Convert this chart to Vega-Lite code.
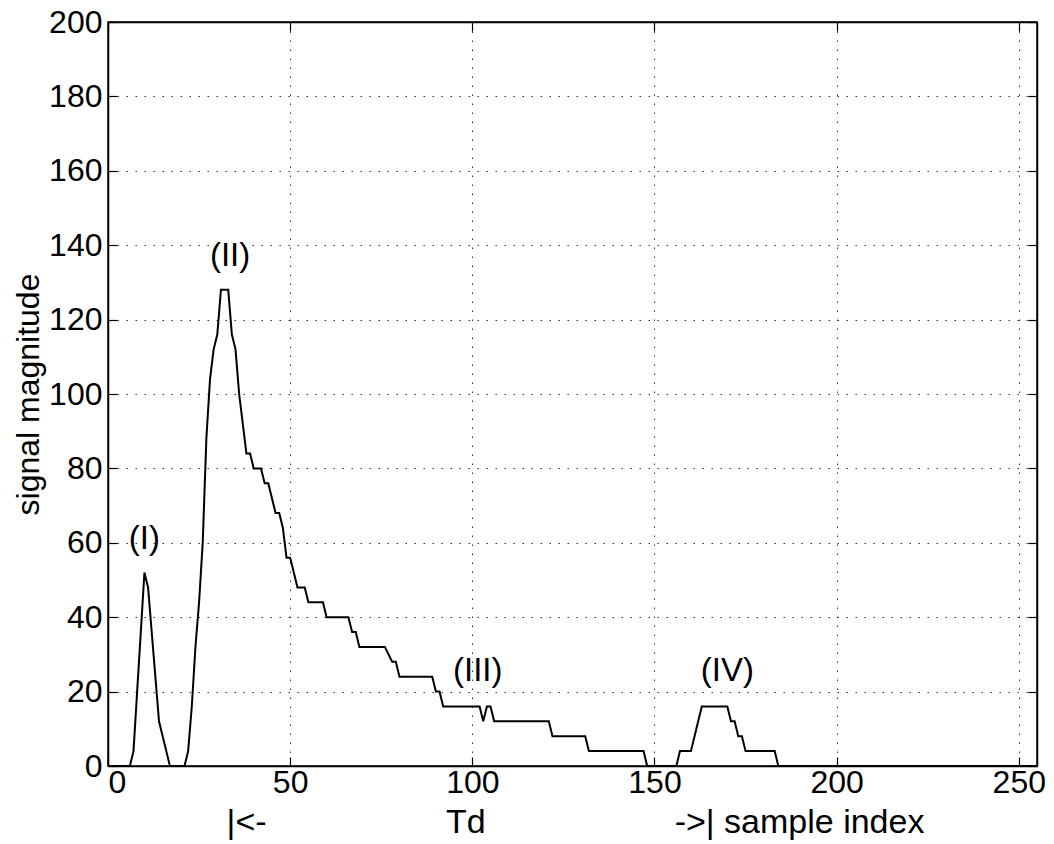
{
  "$schema": "https://vega.github.io/schema/vega-lite/v6.json",
  "width": 929,
  "height": 744,
  "autosize": "none",
  "padding": {"left": 108, "top": 22, "right": 17, "bottom": 78},
  "background": "white",
  "config": {
    "font": "Liberation Sans",
    "view": {"stroke": "black", "strokeWidth": 1.5},
    "axis": {
      "domainColor": "black",
      "domainWidth": 1.5,
      "tickColor": "black",
      "tickWidth": 1.2,
      "labelColor": "black",
      "labelFont": "Liberation Sans",
      "labelFontSize": 32,
      "titleFont": "Liberation Sans",
      "titleFontSize": 33,
      "titleFontWeight": "normal",
      "titleColor": "black",
      "gridColor": "#333333",
      "gridDash": [1.5, 7.5],
      "gridWidth": 1,
      "gridOpacity": 1
    }
  },
  "datasets": {
    "curve": [
      {"x": 0, "y": 0}, {"x": 1, "y": 0}, {"x": 2, "y": 0}, {"x": 3, "y": 0}, {"x": 4, "y": 0}, {"x": 5, "y": 0}, {"x": 6, "y": 0},
      {"x": 7, "y": 4}, {"x": 8, "y": 20}, {"x": 9, "y": 36}, {"x": 10, "y": 52}, {"x": 11, "y": 48}, {"x": 12, "y": 36},
      {"x": 13, "y": 24}, {"x": 14, "y": 12}, {"x": 15, "y": 8}, {"x": 16, "y": 4},
      {"x": 17, "y": 0}, {"x": 18, "y": 0}, {"x": 19, "y": 0}, {"x": 20, "y": 0}, {"x": 21, "y": 0},
      {"x": 22, "y": 4}, {"x": 23, "y": 16}, {"x": 24, "y": 32}, {"x": 25, "y": 44}, {"x": 26, "y": 60}, {"x": 27, "y": 88},
      {"x": 28, "y": 104}, {"x": 29, "y": 112}, {"x": 30, "y": 116}, {"x": 31, "y": 128}, {"x": 32, "y": 128}, {"x": 33, "y": 128},
      {"x": 34, "y": 116}, {"x": 35, "y": 112}, {"x": 36, "y": 100}, {"x": 37, "y": 92}, {"x": 38, "y": 84}, {"x": 39, "y": 84},
      {"x": 40, "y": 80}, {"x": 41, "y": 80}, {"x": 42, "y": 80}, {"x": 43, "y": 76}, {"x": 44, "y": 76}, {"x": 45, "y": 72},
      {"x": 46, "y": 68}, {"x": 47, "y": 68}, {"x": 48, "y": 64}, {"x": 49, "y": 56}, {"x": 50, "y": 56}, {"x": 51, "y": 52},
      {"x": 52, "y": 48}, {"x": 53, "y": 48}, {"x": 54, "y": 48},
      {"x": 55, "y": 44}, {"x": 56, "y": 44}, {"x": 57, "y": 44}, {"x": 58, "y": 44}, {"x": 59, "y": 44},
      {"x": 60, "y": 40}, {"x": 61, "y": 40}, {"x": 62, "y": 40}, {"x": 63, "y": 40}, {"x": 64, "y": 40}, {"x": 65, "y": 40}, {"x": 66, "y": 40},
      {"x": 67, "y": 36}, {"x": 68, "y": 36},
      {"x": 69, "y": 32}, {"x": 70, "y": 32}, {"x": 71, "y": 32}, {"x": 72, "y": 32}, {"x": 73, "y": 32}, {"x": 74, "y": 32}, {"x": 75, "y": 32}, {"x": 76, "y": 32},
      {"x": 77, "y": 30}, {"x": 78, "y": 28}, {"x": 79, "y": 28},
      {"x": 80, "y": 24}, {"x": 81, "y": 24}, {"x": 82, "y": 24}, {"x": 83, "y": 24}, {"x": 84, "y": 24}, {"x": 85, "y": 24}, {"x": 86, "y": 24}, {"x": 87, "y": 24}, {"x": 88, "y": 24}, {"x": 89, "y": 24},
      {"x": 90, "y": 20}, {"x": 91, "y": 20},
      {"x": 92, "y": 16}, {"x": 93, "y": 16}, {"x": 94, "y": 16}, {"x": 95, "y": 16}, {"x": 96, "y": 16}, {"x": 97, "y": 16}, {"x": 98, "y": 16}, {"x": 99, "y": 16}, {"x": 100, "y": 16}, {"x": 101, "y": 16}, {"x": 102, "y": 16},
      {"x": 103, "y": 12}, {"x": 104, "y": 16}, {"x": 105, "y": 16},
      {"x": 106, "y": 12}, {"x": 107, "y": 12}, {"x": 108, "y": 12}, {"x": 109, "y": 12}, {"x": 110, "y": 12}, {"x": 111, "y": 12}, {"x": 112, "y": 12}, {"x": 113, "y": 12},
      {"x": 114, "y": 12}, {"x": 115, "y": 12}, {"x": 116, "y": 12}, {"x": 117, "y": 12}, {"x": 118, "y": 12}, {"x": 119, "y": 12}, {"x": 120, "y": 12}, {"x": 121, "y": 12},
      {"x": 122, "y": 8}, {"x": 123, "y": 8}, {"x": 124, "y": 8}, {"x": 125, "y": 8}, {"x": 126, "y": 8}, {"x": 127, "y": 8}, {"x": 128, "y": 8}, {"x": 129, "y": 8}, {"x": 130, "y": 8}, {"x": 131, "y": 8},
      {"x": 132, "y": 4}, {"x": 133, "y": 4}, {"x": 134, "y": 4}, {"x": 135, "y": 4}, {"x": 136, "y": 4}, {"x": 137, "y": 4}, {"x": 138, "y": 4}, {"x": 139, "y": 4},
      {"x": 140, "y": 4}, {"x": 141, "y": 4}, {"x": 142, "y": 4}, {"x": 143, "y": 4}, {"x": 144, "y": 4}, {"x": 145, "y": 4}, {"x": 146, "y": 4}, {"x": 147, "y": 4},
      {"x": 148, "y": 0}, {"x": 149, "y": 0}, {"x": 150, "y": 0}, {"x": 151, "y": 0}, {"x": 152, "y": 0}, {"x": 153, "y": 0}, {"x": 154, "y": 0}, {"x": 155, "y": 0}, {"x": 156, "y": 0},
      {"x": 157, "y": 4}, {"x": 158, "y": 4}, {"x": 159, "y": 4}, {"x": 160, "y": 4},
      {"x": 161, "y": 8}, {"x": 162, "y": 12},
      {"x": 163, "y": 16}, {"x": 164, "y": 16}, {"x": 165, "y": 16}, {"x": 166, "y": 16}, {"x": 167, "y": 16}, {"x": 168, "y": 16}, {"x": 169, "y": 16}, {"x": 170, "y": 16},
      {"x": 171, "y": 12}, {"x": 172, "y": 12}, {"x": 173, "y": 8}, {"x": 174, "y": 8},
      {"x": 175, "y": 4}, {"x": 176, "y": 4}, {"x": 177, "y": 4}, {"x": 178, "y": 4}, {"x": 179, "y": 4}, {"x": 180, "y": 4}, {"x": 181, "y": 4}, {"x": 182, "y": 4}, {"x": 183, "y": 4},
      {"x": 184, "y": 0}, {"x": 255, "y": 0}
    ],
    "labels": [
      {"x": 10, "y": 61, "t": "(I)"},
      {"x": 33.5, "y": 137, "t": "(II)"},
      {"x": 101.5, "y": 25.5, "t": "(III)"},
      {"x": 170, "y": 25.5, "t": "(IV)"}
    ]
  },
  "resolve": {"axis": {"x": "independent", "y": "independent"}},
  "layer": [
    {
      "data": {"name": "curve"},
      "mark": {"type": "line", "color": "black", "strokeWidth": 2, "clip": true},
      "encoding": {
        "x": {
          "field": "x", "type": "quantitative",
          "scale": {"domain": [0, 255], "nice": false, "zero": false},
          "axis": {
            "values": [0, 50, 100, 150, 200, 250],
            "grid": true, "tickSize": -9, "labelPadding": 10,
            "title": "|<-\u00a0\u00a0\u00a0\u00a0\u00a0\u00a0\u00a0\u00a0\u00a0\u00a0\u00a0\u00a0\u00a0\u00a0\u00a0\u00a0\u00a0\u00a0\u00a0Td\u00a0\u00a0\u00a0\u00a0\u00a0\u00a0\u00a0\u00a0\u00a0\u00a0\u00a0\u00a0\u00a0\u00a0\u00a0\u00a0\u00a0\u00a0\u00a0\u00a0->| sample index",
            "titleY": 56, "titleX": 467, "titleBaseline": "middle", "titleFontSize": 34
          }
        },
        "y": {
          "field": "y", "type": "quantitative",
          "scale": {"domain": [0, 200], "nice": false},
          "axis": {
            "values": [0, 20, 40, 60, 80, 100, 120, 140, 160, 180, 200],
            "grid": true, "tickSize": -9, "labelPadding": 15,
            "title": "signal magnitude",
            "titleX": -80, "titleY": 372, "titleAngle": 270,
            "titleAlign": "center", "titleBaseline": "middle", "titleFontSize": 32
          }
        }
      }
    },
    {
      "data": {"name": "labels"},
      "mark": {"type": "text", "fontSize": 33, "font": "Liberation Sans", "color": "black", "align": "center", "baseline": "middle"},
      "encoding": {
        "x": {
          "field": "x", "type": "quantitative",
          "scale": {"domain": [0, 255], "nice": false, "zero": false},
          "axis": {"orient": "top", "values": [0, 50, 100, 150, 200, 250], "labels": false, "grid": false, "tickSize": -9, "title": null}
        },
        "y": {
          "field": "y", "type": "quantitative",
          "scale": {"domain": [0, 200], "nice": false},
          "axis": {"orient": "right", "values": [0, 20, 40, 60, 80, 100, 120, 140, 160, 180, 200], "labels": false, "grid": false, "tickSize": -9, "title": null}
        },
        "text": {"field": "t"}
      }
    }
  ]
}
